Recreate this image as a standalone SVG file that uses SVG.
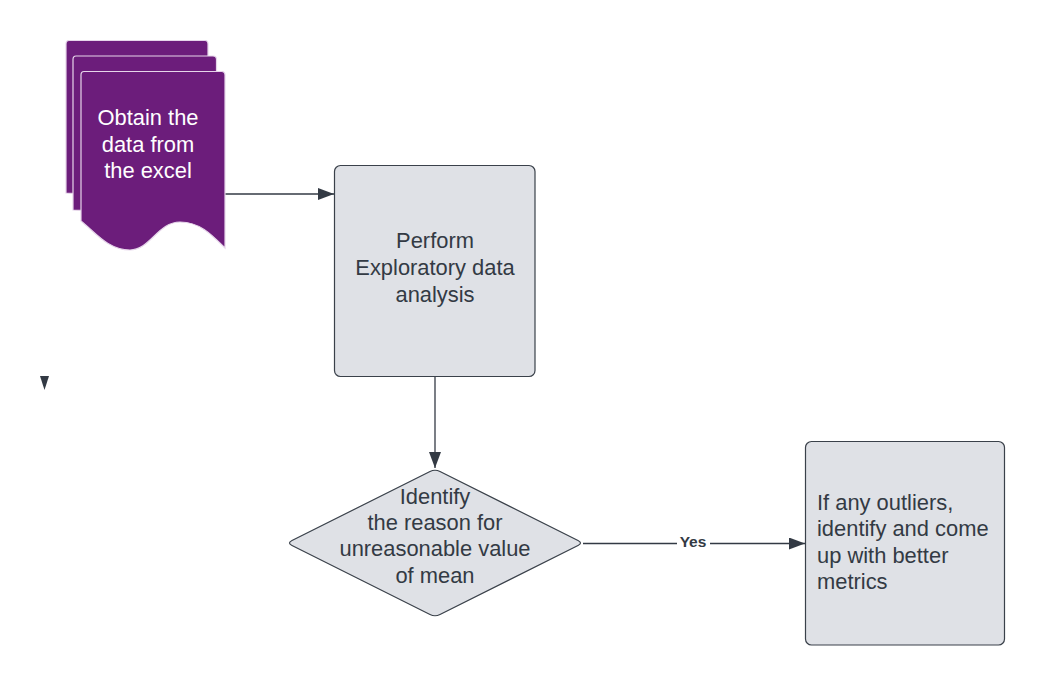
<svg xmlns="http://www.w3.org/2000/svg" width="1045" height="686" viewBox="0 0 1045 686">
<defs>
<style>
.box{fill:#dfe1e6;stroke:#3a414a;stroke-width:1.2}
.doc{fill:#6c1d7b;stroke:#e6d5ea;stroke-width:1.2}
.t{font-family:"Liberation Sans",Arial,sans-serif;font-size:21.9px;fill:#333a44}
.tw{font-family:"Liberation Sans",Arial,sans-serif;font-size:21.9px;fill:#ffffff}
.line{fill:none;stroke:#333a44;stroke-width:1.3}
.lbl{font-family:"Liberation Sans",Arial,sans-serif;font-size:15.5px;font-weight:bold;fill:#333a44}
</style>
<marker id="arr" viewBox="0 0 16 12" refX="16" refY="6" markerWidth="16" markerHeight="12" markerUnits="userSpaceOnUse" orient="auto">
<path d="M0,0 L16,6 L0,12 Z" fill="#333a44"/>
</marker>
</defs>
<rect width="1045" height="686" fill="#ffffff"/>
<g id="connectors">
<path class="line" d="M225,194 L334,194" marker-end="url(#arr)"/>
<path class="line" d="M435,377 L435,468" marker-end="url(#arr)"/>
<path class="line" d="M583,543.5 L805,543.5" stroke-width="1.6" marker-end="url(#arr)"/>
<rect x="677" y="534" width="33" height="17" fill="#ffffff"/>
<text class="lbl" x="693" y="547" text-anchor="middle">Yes</text>
<polygon points="40,376 49,376 44.5,390" fill="#333a44"/>
</g>
<g id="node-obtain">
<path class="doc" d="M69,40.5 L205,40.5 Q208,40.5 208,44 L208,200 L66,193 L66,44 Q66,40.5 69,40.5 Z"/>
<path class="doc" d="M76,56 L213,56 Q216.5,56 216.5,59.5 L216.5,215 L73,210 L73,59.5 Q73,56 76,56 Z"/>
<path class="doc" d="M84,71.5 L221.5,71.5 Q225,71.5 225,75 L225,248 C212,235 200,222 180,222 C158,222 150,250 130,250 C108,250 95,232 81,221 L81,75 Q81,71.5 84,71.5 Z"/>
<text class="tw" x="148" y="125" text-anchor="middle">Obtain the</text>
<text class="tw" x="148" y="152" text-anchor="middle">data from</text>
<text class="tw" x="148" y="178" text-anchor="middle">the excel</text>
</g>
<g id="node-eda">
<rect class="box" x="334.5" y="165.5" width="200.5" height="211" rx="6"/>
<text class="t" x="435" y="248" text-anchor="middle">Perform</text>
<text class="t" x="435" y="275" text-anchor="middle">Exploratory data</text>
<text class="t" x="435" y="302" text-anchor="middle">analysis</text>
</g>
<g id="node-identify">
<path class="box" d="M430,471.5 Q435,469 440,471.5 L578,540.5 Q583,543 578,545.5 L440,614.5 Q435,617 430,614.5 L292,545.5 Q287,543 292,540.5 Z"/>
<text class="t" x="435" y="504" text-anchor="middle">Identify</text>
<text class="t" x="435" y="530" text-anchor="middle">the reason for</text>
<text class="t" x="435" y="556" text-anchor="middle">unreasonable value</text>
<text class="t" x="435" y="583" text-anchor="middle">of mean</text>
</g>
<g id="node-outliers">
<rect class="box" x="805.5" y="441.5" width="199" height="203.5" rx="6"/>
<text class="t" x="817" y="510">If any outliers,</text>
<text class="t" x="817" y="536">identify and come</text>
<text class="t" x="817" y="563">up with better</text>
<text class="t" x="817" y="589">metrics</text>
</g>
</svg>
